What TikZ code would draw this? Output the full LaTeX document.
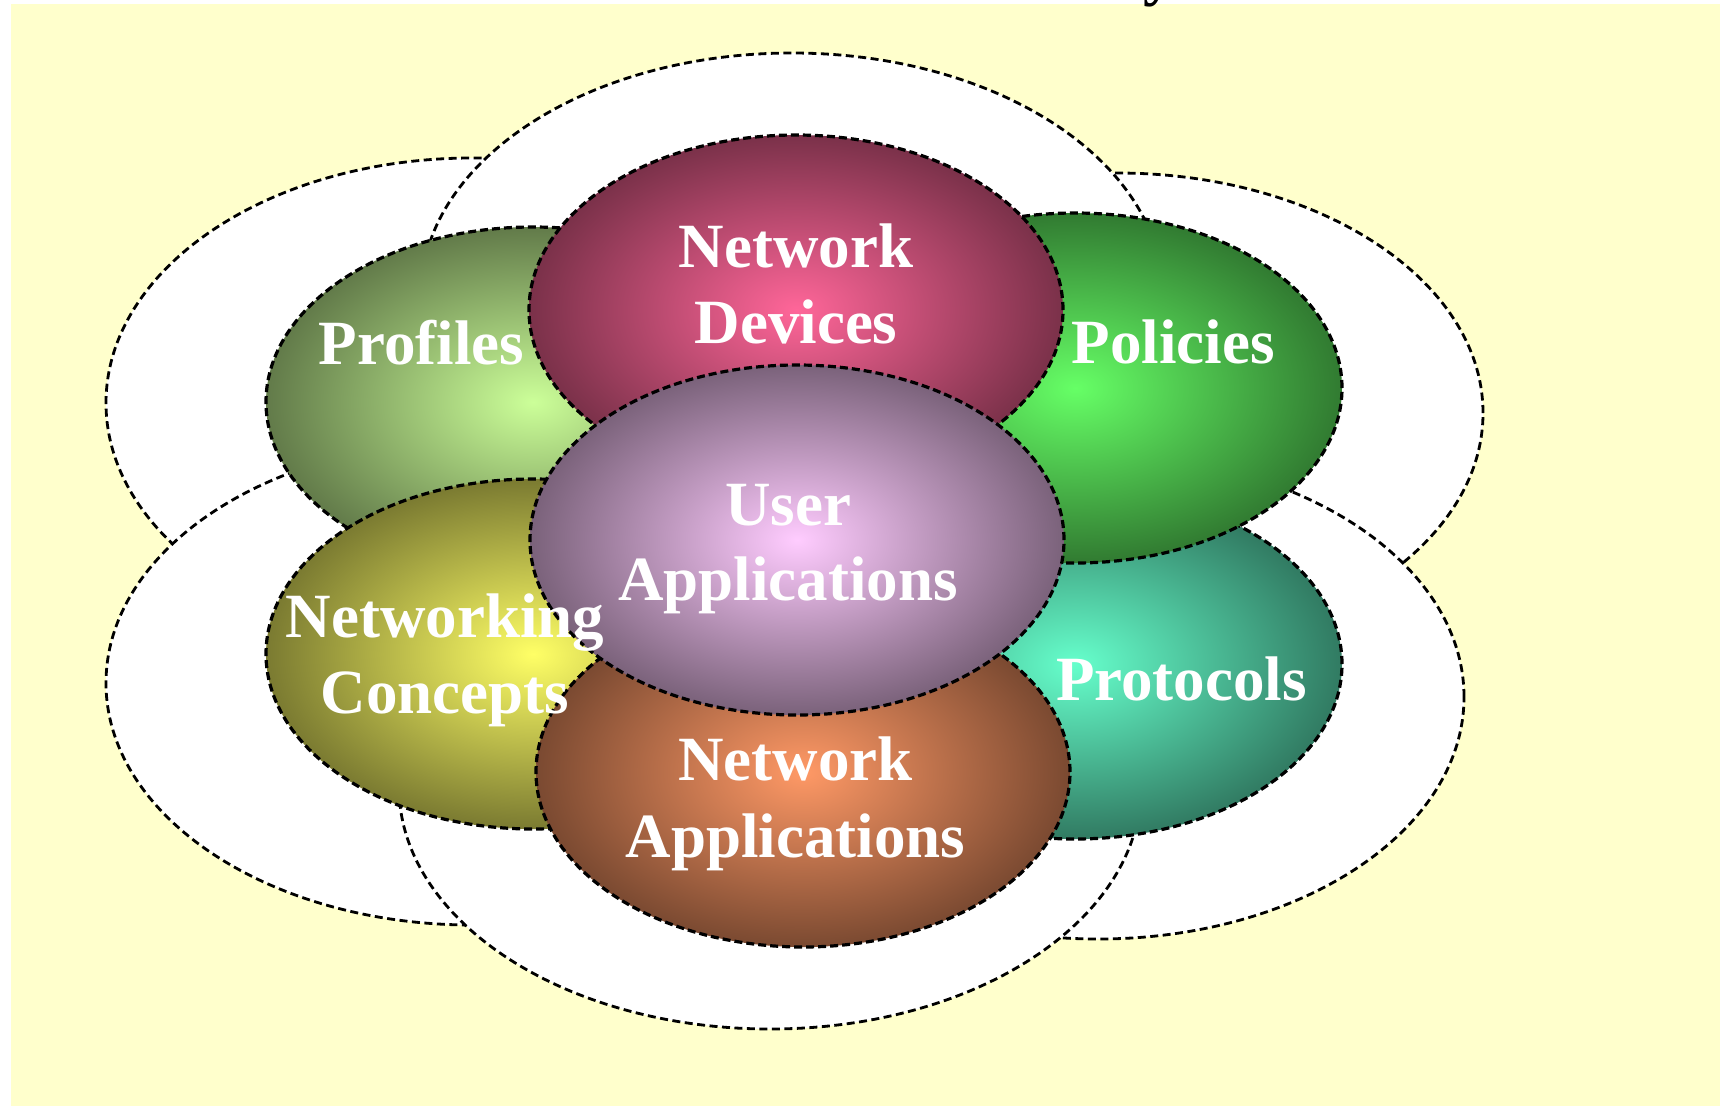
\documentclass[tikz,border=0pt]{standalone}
\usepackage{fontspec}
\setmainfont{Liberation Serif}
\usetikzlibrary{shapes.geometric}
\definecolor{bgyellow}{RGB}{255,255,204}
\definecolor{profC}{RGB}{204,255,153}
\definecolor{devC}{RGB}{255,102,153}
\definecolor{polC}{RGB}{102,255,102}
\definecolor{protC}{RGB}{102,255,204}
\definecolor{appC}{RGB}{255,153,102}
\definecolor{conC}{RGB}{255,255,102}
\definecolor{userC}{RGB}{255,204,255}
\begin{document}
\begin{tikzpicture}[x=1pt,y=-1pt,
  outerell/.style={ellipse, draw=black, fill=white, line width=2.8pt,
    dash pattern=on 8pt off 4.5pt, inner sep=0pt, outer sep=0pt},
  innerell/.style={ellipse, draw=black, line width=3.2pt,
    dash pattern=on 8pt off 4pt, minimum width=534pt, minimum height=350pt,
    inner sep=0pt, outer sep=0pt, inner color=#1, outer color=#1!48!black},
  lbl/.style={text=white, font=\bfseries\fontsize{63}{75.6}\selectfont,
    inner sep=0pt, anchor=base}]
\useasboundingbox (0,0) rectangle (1720,1106);
\fill[bgyellow] (11,4) rectangle (1720,1106);
% title (only its descender is visible)
\node[text=black, font=\bfseries\fontsize{63}{75.6}\selectfont, inner sep=0pt,
  anchor=base west] (titletail) at (1143,-7) {y};
% outer dashed ellipses
\node[outerell, minimum width=732pt, minimum height=490pt] (otl) at (472,403) {};
\node[outerell, minimum width=732pt, minimum height=480pt] (otr) at (1117,413) {};
\node[outerell, minimum width=732pt, minimum height=484pt] (obl) at (472,683) {};
\node[outerell, minimum width=732pt, minimum height=484pt] (obr) at (1098,697) {};
\node[outerell, minimum width=742pt, minimum height=484pt] (otop) at (792,295) {};
\node[outerell, minimum width=742pt, minimum height=484pt] (obot) at (770,787) {};
% inner shaded ellipses
\node[innerell=profC] (profiles) at (533,402) {};
\node[innerell=protC] (protocols) at (1075,664) {};
\node[innerell=polC] (policies) at (1075,388) {};
\node[innerell=conC] (concepts) at (533,654) {};
\node[innerell=appC] (netapps) at (803,772) {};
\node[innerell=devC] (devices) at (796,310) {};
\node[innerell=userC] (user) at (797,540) {};
% labels
\node[lbl] (tprof) at (421.5,364) {Profiles};
\node[lbl] (tdev1) at (796,267) {Network};
\node[lbl] (tdev2) at (796,343) {Devices};
\node[lbl] (tpol) at (1173,363) {Policies};
\node[lbl] (tuser1) at (788,525) {User};
\node[lbl] (tuser2) at (788,600) {Applications};
\node[lbl] (tcon1) at (445,637) {Networking};
\node[lbl] (tcon2) at (445,713) {Concepts};
\node[lbl] (tprot) at (1181.5,700) {Protocols};
\node[lbl] (tapp1) at (795.5,780) {Network};
\node[lbl] (tapp2) at (795.5,857) {Applications};
\end{tikzpicture}
\end{document}
